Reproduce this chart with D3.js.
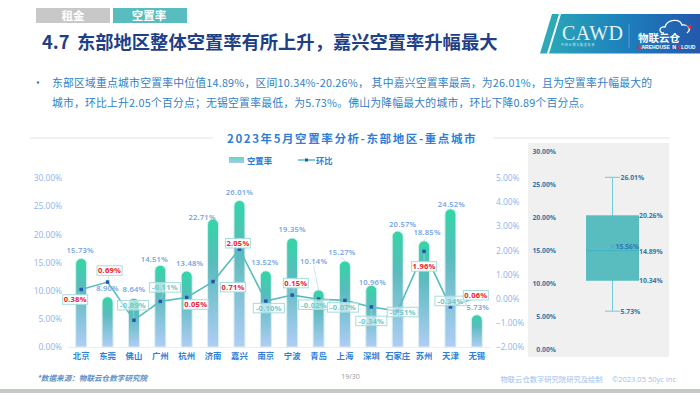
<!DOCTYPE html>
<html>
<head>
<meta charset="utf-8">
<script src="https://cdn.jsdelivr.net/npm/d3@7"></script>
<style>
  html, body { margin: 0; padding: 0; background: #fff; }
  svg { display: block; font-family: "Noto Sans CJK SC", "Open Sans", sans-serif; }
</style>
</head>
<body>
<div id="chart"></div>
<script>
const cities = ["北京","东莞","佛山","广州","杭州","济南","嘉兴","南京","宁波","青岛","上海","深圳","石家庄","苏州","天津","无锡"];
const vacancy = [15.73,8.90,8.64,14.51,13.48,22.71,26.01,13.52,19.35,10.14,15.27,10.96,20.57,18.85,24.52,5.73];
const change = [0.38,0.69,-0.89,-0.11,0.05,0.71,2.05,-0.10,0.15,-0.02,-0.07,-0.34,-0.51,1.96,-0.34,0.06];
const leftTicks = [0,5,10,15,20,25,30];
const rightTicks = [-2,-1,0,1,2,3,4,5];
const boxTicks = [0,5,10,15,20,25,30];
const boxStats = { min: 5.73, q1: 10.34, median: 14.89, mean: 15.56, q3: 20.26, max: 26.01 };

// Label placement, offset from the data point in px
const barLabelOffset = [[-1,-5],[0,-6],[0,-6],[-6,-3],[3,-5],[-11,1],[0,-5],[-1,-6],[0,-6],[-5,-26],[-3,-6],[1,0],[5,-4],[3,-6],[1,-2],[1,-5]];
const changeLabelOffset = [[-6,10],[2,-11.5],[-1,-15],[4.6,-14],[9,7],[20,5.6],[-1.5,-6],[3,7],[3.7,-12],[-4.6,5.5],[-2,7],[0,14],[5,1],[0,15],[0,-6],[-1,-2]];

const svg = d3.select("#chart").append("svg").attr("width", 700).attr("height", 393);
const defs = svg.append("defs");

const barGrad = defs.append("linearGradient").attr("id", "barGrad")
  .attr("x1", 0).attr("y1", 0).attr("x2", 0).attr("y2", 1);
barGrad.append("stop").attr("offset", "0%").attr("stop-color", "#33d6a6");
barGrad.append("stop").attr("offset", "35%").attr("stop-color", "#5abbbd");
barGrad.append("stop").attr("offset", "100%").attr("stop-color", "#b0cdf6");

const logoGrad = defs.append("linearGradient").attr("id", "logoGrad");
logoGrad.append("stop").attr("offset", "0%").attr("stop-color", "#2aa6b8");
logoGrad.append("stop").attr("offset", "50%").attr("stop-color", "#1d80bd");
logoGrad.append("stop").attr("offset", "100%").attr("stop-color", "#2458ac");

// Header tabs
svg.append("rect").attr("x", 36).attr("y", 8).attr("width", 74).attr("height", 15).attr("fill", "#c8c8c8");
svg.append("rect").attr("x", 113).attr("y", 8).attr("width", 74).attr("height", 15).attr("fill", "#59bcbf");
svg.append("text").attr("x", 73).attr("y", 20).attr("text-anchor", "middle")
  .attr("font-size", 11.5).attr("font-weight", 700).attr("fill", "#fff").text("租金");
svg.append("text").attr("x", 149).attr("y", 20).attr("text-anchor", "middle")
  .attr("font-size", 11.5).attr("font-weight", 700).attr("fill", "#fff").text("空置率");

const pageTitle = svg.append("text").attr("y", 49)
  .attr("font-size", 18.3).attr("font-weight", 700).attr("fill", "#1f3f87");
pageTitle.append("tspan").attr("x", 42).text("4.7");
pageTitle.append("tspan").attr("x", 77).text("东部地区整体空置率有所上升，嘉兴空置率升幅最大");

// Logo
svg.append("path").attr("d", "M549,53.5 L561,14 L700,14 L700,53.5 Z").attr("fill", "url(#logoGrad)");
svg.append("path").attr("d", "M547,53.5 L559,14 L552,14 L540,53.5 Z").attr("fill", "#2fa9b8");
svg.append("text").attr("x", 562).attr("y", 40).attr("font-family", "Liberation Serif")
  .attr("font-size", 20).attr("fill", "#e4f3f6").attr("letter-spacing", 0.5).text("CAWD");
svg.append("text").attr("x", 561).attr("y", 45.5).attr("font-size", 3).attr("fill", "#d8eef2")
  .attr("letter-spacing", 0.8).text("中国仓储与配送协会");
svg.append("line").attr("x1", 629).attr("x2", 629).attr("y1", 24).attr("y2", 48).attr("stroke", "#5f9bcf");
svg.append("text").attr("x", 638).attr("y", 41.5).attr("font-size", 10.5).attr("font-weight", 700).attr("fill", "#fff").text("物联云仓");
const logoEn = svg.append("text").attr("x", 637).attr("y", 48.5).attr("font-family", "Liberation Sans")
  .attr("font-size", 5).attr("font-weight", 700).attr("fill", "#fff");
logoEn.append("tspan").attr("fill", "#e0303a").text("W");
logoEn.append("tspan").text("AREHOUSE ");
logoEn.append("tspan").attr("fill", "#e0303a").text("I");
logoEn.append("tspan").text("N ");
logoEn.append("tspan").attr("fill", "#e0303a").text("C");
logoEn.append("tspan").text("LOUD");
svg.append("path").attr("d", "M664,33 C658,33 659,26 665,27 C667,19 680,18 682,25 C688,24 692,29 687,33")
  .attr("fill", "none").attr("stroke", "#fff").attr("stroke-width", 1.3);
svg.append("path").attr("d", "M686,25 L691,25 L691,30 Z").attr("fill", "#e0303a");

// Body text
const bodyColor = "#2f7fc8";
svg.append("circle").attr("cx", 38).attr("cy", 82.5).attr("r", 1.2).attr("fill", bodyColor);
svg.append("text").attr("x", 52).attr("y", 86.5).attr("font-size", 10.8).attr("letter-spacing", 0.22).attr("fill", bodyColor)
  .text("东部区域重点城市空置率中位值14.89%，区间10.34%-20.26%， 其中嘉兴空置率最高，为26.01%，且为空置率升幅最大的");
svg.append("text").attr("x", 52).attr("y", 107).attr("font-size", 10.8).attr("letter-spacing", 0.22).attr("fill", bodyColor)
  .text("城市，环比上升2.05个百分点；无锡空置率最低，为5.73%。佛山为降幅最大的城市，环比下降0.89个百分点。");

// Chart title and rules
svg.append("line").attr("x1", 30).attr("x2", 213).attr("y1", 138).attr("y2", 138).attr("stroke", "#e3e3e3");
svg.append("line").attr("x1", 493).attr("x2", 670).attr("y1", 138).attr("y2", 138).attr("stroke", "#e3e3e3");
svg.append("text").attr("x", 227).attr("y", 143)
  .attr("font-size", 11.5).attr("font-weight", 700).attr("fill", "#2f7fd8").attr("letter-spacing", 1.6)
  .text("2023年5月空置率分析-东部地区-重点城市");

// Legend
const legendGrad = defs.append("linearGradient").attr("id", "legendGrad")
  .attr("x1", 0).attr("y1", 0).attr("x2", 0).attr("y2", 1);
legendGrad.append("stop").attr("offset", "0%").attr("stop-color", "#5fdcbc");
legendGrad.append("stop").attr("offset", "100%").attr("stop-color", "#a9c8f2");
svg.append("rect").attr("x", 229).attr("y", 157).attr("width", 15).attr("height", 6).attr("fill", "url(#legendGrad)");
svg.append("text").attr("x", 247).attr("y", 164).attr("font-size", 8.4).attr("font-weight", 700).attr("fill", "#2f7fd8").text("空置率");
svg.append("line").attr("x1", 298).attr("x2", 315).attr("y1", 160).attr("y2", 160).attr("stroke", "#59bcbf").attr("stroke-width", 1.5);
svg.append("rect").attr("x", 305).attr("y", 158.5).attr("width", 3).attr("height", 3).attr("fill", "#2458ac");
svg.append("text").attr("x", 316).attr("y", 164).attr("font-size", 8.4).attr("font-weight", 700).attr("fill", "#2f7fd8").text("环比");

// Main chart scales
const x = d3.scaleBand().domain(cities).range([68, 490]);
const y = d3.scaleLinear().domain([0, 30]).range([347, 178]);
const yRight = d3.scaleLinear().domain([-2, 5]).range([347, 178]);

const axisColor = "#8fb4ee";
const leftAxis = svg.append("g").attr("transform", "translate(62,0)")
  .call(d3.axisLeft(y).tickValues(leftTicks).tickSize(0).tickPadding(0).tickFormat(d => d3.format(".2f")(d) + "%"));
const rightAxis = svg.append("g").attr("transform", "translate(496,0)")
  .call(d3.axisRight(yRight).tickValues(rightTicks).tickSize(0).tickPadding(0).tickFormat(d => d3.format(".2f")(d) + "%"));
const bottomAxis = svg.append("g").attr("transform", "translate(0,347)")
  .call(d3.axisBottom(x).tickSize(0).tickPadding(6));
[leftAxis, rightAxis].forEach(a => {
  a.select(".domain").remove();
  a.selectAll("text").attr("font-size", 8.4).attr("font-family", "Open Sans").attr("fill", axisColor);
});
bottomAxis.select(".domain").attr("stroke", "#e6eefb");
bottomAxis.selectAll("text").attr("font-size", 8.4).attr("font-weight", 700).attr("font-family", "Noto Sans CJK SC").attr("fill", "#2f7fd8");

// Bars: flat bottom, round top
const barW = 11;
const mid = d => x(d) + x.bandwidth() / 2;
svg.append("g").selectAll("path").data(cities).join("path")
  .attr("d", (d, i) => {
    const x0 = mid(d) - barW / 2, top = y(vacancy[i]), r = barW / 2;
    return `M${x0},${y(0)} V${top + r} A${r},${r} 0 0 1 ${x0 + barW},${top + r} V${y(0)} Z`;
  })
  .attr("fill", "url(#barGrad)")
  .attr("stroke", "#dcefef").attr("stroke-width", 1);

// Leader lines for bar labels that sit away from their bar
svg.append("g").selectAll("line").data(cities).join("line")
  .filter((d, i) => barLabelOffset[i][1] < -5 && Math.abs(barLabelOffset[i][0]) > 2)
  .attr("x1", mid)
  .attr("y1", d => y(vacancy[cities.indexOf(d)]))
  .attr("x2", d => mid(d) + barLabelOffset[cities.indexOf(d)][0])
  .attr("y2", d => y(vacancy[cities.indexOf(d)]) + barLabelOffset[cities.indexOf(d)][1] + 2)
  .attr("stroke", "#b9cff2").attr("stroke-width", 0.6);

svg.append("g").selectAll("text").data(cities).join("text")
  .attr("x", (d, i) => mid(d) + barLabelOffset[i][0])
  .attr("y", (d, i) => y(vacancy[i]) + barLabelOffset[i][1])
  .attr("text-anchor", "middle")
  .attr("font-size", 7.6).attr("font-weight", 600).attr("font-family", "Open Sans").attr("letter-spacing", 0.2)
  .attr("fill", "#6f9fe8")
  .text((d, i) => vacancy[i].toFixed(2) + "%");

// Change line
const line = d3.line()
  .x(mid)
  .y((d, i) => yRight(change[i]));
svg.append("path").datum(cities).attr("d", line)
  .attr("fill", "none").attr("stroke", "#59bcbf").attr("stroke-width", 1.6);
svg.append("g").selectAll("line").data(cities).join("line")
  .attr("x1", mid).attr("y1", (d, i) => yRight(change[i]))
  .attr("x2", (d, i) => mid(d) + changeLabelOffset[i][0])
  .attr("y2", (d, i) => yRight(change[i]) + changeLabelOffset[i][1])
  .attr("stroke", "#a6dcdc").attr("stroke-width", 0.6);
svg.append("g").selectAll("rect").data(cities).join("rect")
  .attr("x", d => mid(d) - 1.75)
  .attr("y", (d, i) => yRight(change[i]) - 1.75)
  .attr("width", 3.5).attr("height", 3.5).attr("fill", "#2458ac");

// Change callouts, box width follows the label length
const callH = 9.5;
const callText = v => v.toFixed(2) + "%";
const callW = v => callText(v).length * 6 - 5;
const callouts = svg.append("g").selectAll("g").data(cities).join("g")
  .attr("transform", (d, i) => `translate(${mid(d) + changeLabelOffset[i][0]},${yRight(change[i]) + changeLabelOffset[i][1]})`);
callouts.append("rect")
  .attr("x", (d, i) => -callW(change[i]) / 2).attr("y", -callH / 2)
  .attr("width", (d, i) => callW(change[i])).attr("height", callH)
  .attr("fill", "#ffffff")
  .attr("fill-opacity", (d, i) => change[i] >= 0 ? 1 : 0.55)
  .attr("stroke", "#a6dcdc").attr("stroke-width", 1);
callouts.append("text").attr("text-anchor", "middle").attr("dy", 2.8)
  .attr("font-size", 7.6).attr("font-weight", 700).attr("font-family", "Open Sans").attr("letter-spacing", 0.2)
  .attr("fill", (d, i) => change[i] >= 0 ? "#f5222d" : "#72c9c9")
  .text((d, i) => callText(change[i]));

// Box plot panel
svg.append("rect").attr("x", 528).attr("y", 143).attr("width", 141).attr("height", 214).attr("fill", "#f0f0f0");
const yBox = d3.scaleLinear().domain([0, 30]).range([349, 151]);
const boxAxis = svg.append("g").attr("transform", "translate(556,0)")
  .call(d3.axisLeft(yBox).tickValues(boxTicks).tickSize(0).tickPadding(0).tickFormat(d => d3.format(".2f")(d) + "%"));
boxAxis.select(".domain").remove();
boxAxis.selectAll("text").attr("font-size", 6.8).attr("font-weight", 700).attr("font-family", "Open Sans").attr("fill", "#2f78ad");

const boxX = d3.scaleBand().domain(["空置率"]).range([586, 639]);
const boxLeft = boxX("空置率"), boxRight = boxLeft + boxX.bandwidth();
const cx = boxLeft + boxX.bandwidth() / 2;
const whisker = "#6fcbdc";
svg.append("line").attr("x1", cx).attr("x2", cx).attr("y1", yBox(boxStats.max)).attr("y2", yBox(boxStats.min)).attr("stroke", whisker);
[boxStats.max, boxStats.min].forEach(v => {
  svg.append("line").attr("x1", cx - 7.5).attr("x2", cx + 7.5).attr("y1", yBox(v)).attr("y2", yBox(v)).attr("stroke", whisker);
});
svg.append("rect").attr("x", boxLeft).attr("width", boxX.bandwidth())
  .attr("y", yBox(boxStats.q3)).attr("height", yBox(boxStats.q1) - yBox(boxStats.q3)).attr("fill", "#59bcbf");
svg.append("line").attr("x1", boxLeft).attr("x2", boxRight)
  .attr("y1", yBox(boxStats.median)).attr("y2", yBox(boxStats.median)).attr("stroke", "#3fb3cf");
svg.append("text").attr("x", cx).attr("y", yBox(boxStats.mean) + 2.5).attr("text-anchor", "middle")
  .attr("font-size", 7).attr("fill", "#3fa5cf").text("×");

const boxLabels = [
  [boxStats.max, cx + 8, 2.5], [boxStats.q3, boxRight, 2.5],
  [boxStats.mean, cx + 3, 2.5], [boxStats.median, boxRight, 3],
  [boxStats.q1, boxRight, 2.5], [boxStats.min, cx + 8, 2.5]
];
svg.append("g").selectAll("text").data(boxLabels).join("text")
  .attr("x", d => d[1]).attr("y", d => yBox(d[0]) + d[2])
  .attr("font-size", 6.8).attr("font-weight", 700).attr("font-family", "Open Sans").attr("fill", "#2f78ad")
  .text(d => d[0].toFixed(2) + "%");

// Footer
svg.append("text").attr("x", 37).attr("y", 381).attr("font-size", 7.6).attr("font-style", "italic").attr("font-weight", 700).attr("fill", "#5d8fc7").text("*数据来源：物联云仓数字研究院");
svg.append("text").attr("x", 350.5).attr("y", 378.5).attr("text-anchor", "middle").attr("font-size", 7).attr("font-family", "Open Sans").attr("fill", "#999").text("19/30");
svg.append("text").attr("x", 500.5).attr("y", 382).attr("font-size", 7.3).attr("fill", "#9fc0ec").text("物联云仓数字研究院研究及绘制");
svg.append("text").attr("x", 612).attr("y", 382).attr("font-size", 7.5).attr("font-family", "Open Sans").attr("fill", "#9fc0ec").text("©2023.05 50yc Inc");
svg.append("rect").attr("x", 0).attr("y", 389).attr("width", 700).attr("height", 4).attr("fill", "#c6c8c6");
</script>
</body>
</html>
